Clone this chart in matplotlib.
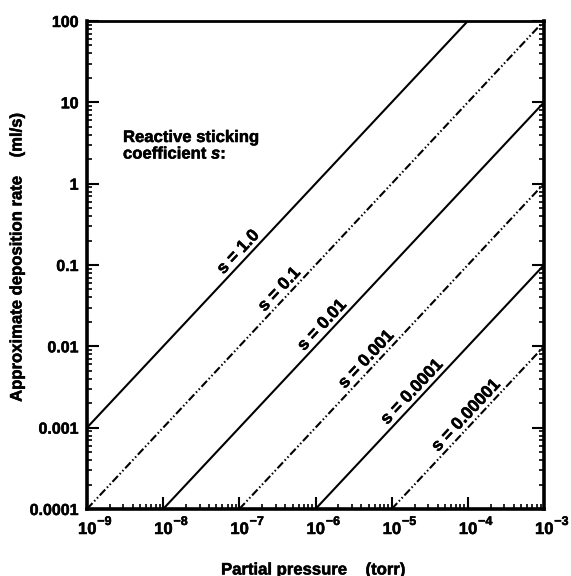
import numpy as np
import matplotlib
matplotlib.use("Agg")
import matplotlib.pyplot as plt
from matplotlib.ticker import LogLocator, FixedLocator, NullFormatter
import matplotlib.patheffects as pe

plt.rcParams['font.family'] = ['Liberation Sans', 'DejaVu Sans']
plt.rcParams['font.weight'] = 'bold'
plt.rcParams['mathtext.fontset'] = 'custom'
plt.rcParams['mathtext.rm'] = 'Liberation Sans:bold'
plt.rcParams['mathtext.it'] = 'Liberation Sans:italic'
plt.rcParams['mathtext.bf'] = 'Liberation Sans:bold'
plt.rcParams['mathtext.default'] = 'rm'
plt.rcParams['lines.scale_dashes'] = False

# ---- data ----
s_labels = ["s = 1.0", "s = 0.1", "s = 0.01", "s = 0.001", "s = 0.0001", "s = 0.00001"]
p_start = [1e-9, 1e-9, 1e-8, 1e-7, 1e-6, 1e-5]
p_end = [1e-4, 1e-3, 1e-3, 1e-3, 1e-3, 1e-3]
rate_start = [1e-3, 1e-4, 1e-4, 1e-4, 1e-4, 1e-4]
rate_end = [1e2, 1e2, 1e1, 1e0, 1e-1, 1e-2]
line_kind = ["solid", "dashdotdot", "solid", "dashdotdot", "solid", "dashdotdot"]
label_logp = [-6.92, -6.38, -5.82, -5.24, -4.64, -3.93]

x_ticks = [1e-9, 1e-8, 1e-7, 1e-6, 1e-5, 1e-4, 1e-3]
x_tick_exponents = ["\u22129", "\u22128", "\u22127", "\u22126", "\u22125", "\u22124", "\u22123"]
y_ticks = [1e-4, 1e-3, 1e-2, 1e-1, 1, 10, 100]
y_ticklabels = ["0.0001", "0.001", "0.01", "0.1", "1", "10", "100"]

heavy = [pe.withStroke(linewidth=0.35, foreground='black')]

fig = plt.figure(figsize=(5.71, 5.76), dpi=100)
ax = fig.add_axes([87/571, 67/576, 457/571, 488/576])
ax.set_xscale('log')
ax.set_yscale('log')
ax.set_xlim(1e-9, 1e-3)
ax.set_ylim(1e-4, 100)

dashdotdot = (0, (5.8, 1.8, 1.1, 1.8, 1.1, 1.8))
for ps, pe_, rs, re, kind in zip(p_start, p_end, rate_start, rate_end, line_kind):
    ls = '-' if kind == 'solid' else dashdotdot
    ax.plot([ps, pe_], [rs, re], color='black', lw=1.5, linestyle=ls,
            solid_capstyle='butt', dash_capstyle='butt')

# line angle in display space
p0 = ax.transData.transform((1e-9, 1e-3))
p1 = ax.transData.transform((1e-4, 1e2))
ang = np.degrees(np.arctan2(p1[1]-p0[1], p1[0]-p0[0]))
th = np.radians(ang)
d = 6.8
off = (-np.sin(th)*d, np.cos(th)*d)
for lab, lp, ps, rs, pe_, re in zip(s_labels, label_logp, p_start, rate_start, p_end, rate_end):
    slope = (np.log10(re) - np.log10(rs)) / (np.log10(pe_) - np.log10(ps))
    ly = np.log10(rs) + slope*(lp - np.log10(ps))
    ax.annotate(lab, xy=(10**lp, 10**ly), xytext=off, textcoords='offset points',
                rotation=ang, rotation_mode='anchor', ha='center', va='center',
                fontsize=12.5, fontweight='bold', path_effects=heavy)

fig.text(123/571, 1 - 130/576, "Reactive sticking\ncoefficient $\\mathit{s}$:",
         ha='left', va='top', fontsize=12, fontweight='bold', linespacing=1.05,
         path_effects=heavy)

ax.xaxis.set_major_locator(FixedLocator(x_ticks))
ax.xaxis.set_major_formatter(NullFormatter())
ax.xaxis.set_minor_locator(LogLocator(base=10, subs=np.arange(2, 10), numticks=20))
ax.xaxis.set_minor_formatter(NullFormatter())
ax.yaxis.set_major_locator(FixedLocator(y_ticks))
ax.set_yticklabels(y_ticklabels)
ax.yaxis.set_minor_locator(LogLocator(base=10, subs=np.arange(2, 10), numticks=20))
ax.yaxis.set_minor_formatter(NullFormatter())

ax.tick_params(which='major', direction='in', length=8.5, width=1.5, top=False, right=True,
               labelsize=11.5)
ax.tick_params(which='minor', direction='in', length=3.5, width=1.2, top=False, right=True)
ax.tick_params(axis='y', which='major', pad=6)
for t in ax.get_yticklabels():
    t.set_fontweight('bold')
    t.set_path_effects(heavy)

# x tick labels: "10" with a separate, larger superscript exponent
xform = ax.get_xaxis_transform()
for xt, ex in zip(x_ticks, x_tick_exponents):
    ax.annotate("10", xy=(xt, 0), xycoords=xform, xytext=(-6.5, -18),
                textcoords='offset points', ha='left', va='baseline',
                fontsize=12, fontweight='bold', annotation_clip=False, path_effects=heavy)
    ax.annotate(ex, xy=(xt, 0), xycoords=xform, xytext=(7.4, -11.5),
                textcoords='offset points', ha='left', va='baseline',
                fontsize=9, fontweight='bold', annotation_clip=False, path_effects=heavy)

for side, w in [('left', 2.6), ('bottom', 2.6), ('right', 2.6), ('top', 2.0)]:
    ax.spines[side].set_linewidth(w)

fig.text(313/571, 1 - 570/576, "Partial pressure    (torr)", ha='center', va='center',
         fontsize=12, fontweight='bold', path_effects=heavy)
fig.text(17/571, 1 - 258/576, "Approximate deposition rate    (ml/s)", ha='center', va='center',
         rotation=90, fontsize=12, fontweight='bold', path_effects=heavy)

fig.savefig("out.png", dpi=100)
